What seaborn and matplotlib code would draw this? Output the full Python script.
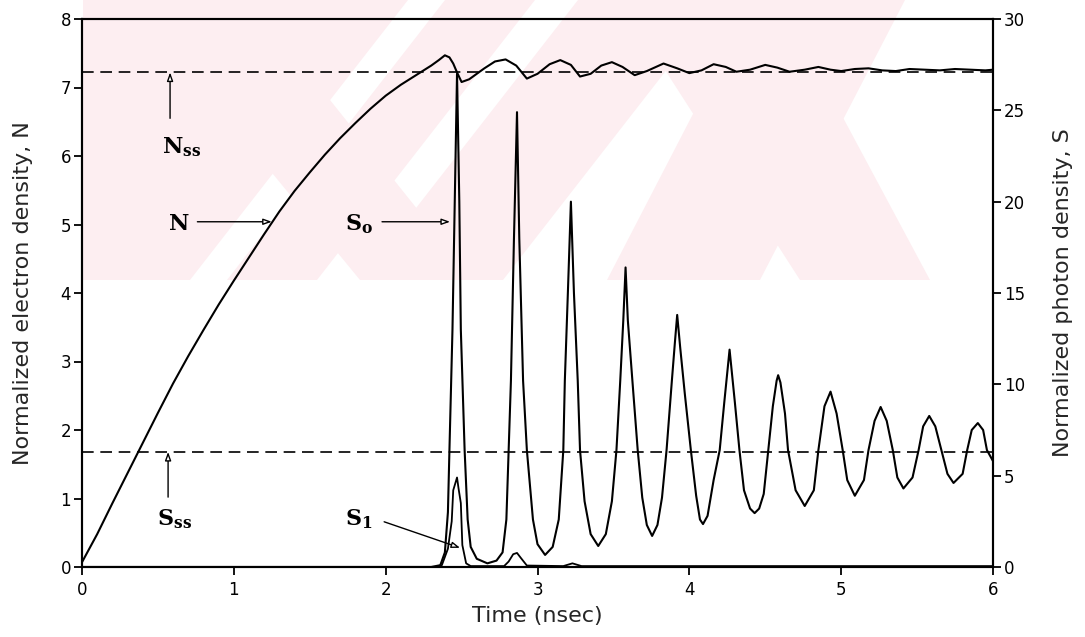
import matplotlib
matplotlib.use('Agg')
import matplotlib.pyplot as plt
from matplotlib.patches import Polygon
import seaborn as sns

# ---- data ----
# electron density N (left axis)
t_n = [0.0, 0.1, 0.2, 0.3, 0.4, 0.5, 0.6, 0.7, 0.8, 0.9, 1.0, 1.1, 1.2, 1.3,
       1.4, 1.5, 1.6, 1.7, 1.8, 1.9, 2.0, 2.1, 2.2, 2.3, 2.35, 2.39, 2.42,
       2.445, 2.47, 2.50, 2.55, 2.60, 2.65, 2.72, 2.79, 2.86, 2.93, 3.00,
       3.08, 3.15, 3.22, 3.28, 3.35, 3.42, 3.49, 3.56, 3.64, 3.72, 3.83,
       3.92, 4.00, 4.08, 4.16, 4.24, 4.31, 4.40, 4.50, 4.58, 4.66, 4.76,
       4.85, 4.93, 5.00, 5.09, 5.18, 5.27, 5.36, 5.45, 5.55, 5.65, 5.75,
       5.85, 5.95, 6.0]
n_val = [0.07, 0.48, 0.93, 1.37, 1.81, 2.25, 2.68, 3.08, 3.46, 3.83, 4.18,
         4.52, 4.86, 5.19, 5.49, 5.76, 6.02, 6.26, 6.48, 6.69, 6.88, 7.04,
         7.18, 7.32, 7.40, 7.47, 7.44, 7.35, 7.22, 7.08, 7.12, 7.20, 7.28,
         7.38, 7.41, 7.32, 7.13, 7.20, 7.34, 7.40, 7.33, 7.16, 7.20, 7.32,
         7.37, 7.30, 7.18, 7.24, 7.35, 7.28, 7.21, 7.25, 7.34, 7.30, 7.23,
         7.26, 7.33, 7.29, 7.23, 7.26, 7.30, 7.26, 7.24, 7.27, 7.28, 7.25,
         7.24, 7.27, 7.26, 7.25, 7.27, 7.26, 7.25, 7.26]

# photon density S0 (right axis)
t_s0 = [0.0, 2.30, 2.36, 2.39, 2.41, 2.42, 2.44, 2.455, 2.47, 2.485, 2.495,
        2.52, 2.54, 2.56, 2.60, 2.67, 2.73, 2.77, 2.795, 2.81, 2.825, 2.845,
        2.865, 2.88, 2.905, 2.93, 2.97, 3.00, 3.05, 3.10, 3.14, 3.17, 3.18,
        3.20, 3.22, 3.24, 3.265, 3.28, 3.31, 3.35, 3.40, 3.45, 3.49, 3.52,
        3.545, 3.565, 3.58, 3.595, 3.625, 3.66, 3.69, 3.72, 3.755, 3.79,
        3.82, 3.85, 3.885, 3.905, 3.92, 3.94, 3.97, 4.01, 4.045, 4.07, 4.09,
        4.12, 4.16, 4.20, 4.23, 4.265, 4.30, 4.33, 4.36, 4.40,
        4.43, 4.46, 4.49, 4.52, 4.55, 4.575, 4.585, 4.60, 4.63, 4.65, 4.70,
        4.76, 4.82, 4.85, 4.89, 4.93, 4.97, 5.01, 5.04, 5.09, 5.15, 5.18,
        5.22, 5.26, 5.30, 5.34, 5.37, 5.41, 5.47, 5.51, 5.54, 5.58, 5.62,
        5.66, 5.70, 5.74, 5.80, 5.83, 5.86, 5.90, 5.935, 5.96, 6.0]
s0_val = [0.0, 0.0, 0.1, 0.8, 3.0, 6.4, 13.0, 20.0, 27.0, 20.0, 13.0, 6.4,
          2.6, 1.1, 0.45, 0.2, 0.35, 0.8, 2.6, 6.4, 10.2, 18.0, 24.9, 18.0,
          10.2, 6.4, 2.6, 1.25, 0.66, 1.1, 2.6, 6.4, 10.2, 15.0, 20.0, 15.0,
          10.2, 6.4, 3.6, 1.8, 1.15, 1.8, 3.6, 6.4, 10.2, 13.5, 16.4, 13.5,
          10.2, 6.4, 3.8, 2.3, 1.7, 2.3, 3.8, 6.4, 10.2, 12.3, 13.8, 12.0,
          9.5, 6.4, 3.9, 2.6, 2.35, 2.8, 4.76, 6.4, 9.0, 11.9, 9.0,
          6.4, 4.2, 3.2, 2.95, 3.2, 4.0, 6.4, 8.8, 10.2, 10.5, 10.1,
          8.4, 6.4, 4.2, 3.34, 4.2, 6.4, 8.8, 9.6, 8.4, 6.4, 4.76, 3.9, 4.76,
          6.4, 8.0, 8.76, 8.0, 6.4, 4.9, 4.3, 4.9, 6.4, 7.7, 8.27, 7.7, 6.4,
          5.1, 4.6, 5.1, 6.4, 7.5, 7.88, 7.5, 6.4, 5.8]

# photon density S1 (right axis)
t_s1 = [0.0, 2.34, 2.37, 2.41, 2.435, 2.445, 2.47, 2.48, 2.495, 2.505, 2.53,
        2.56, 2.78, 2.81, 2.84, 2.865, 2.89, 2.93, 3.17, 3.23, 3.29, 6.0]
s1_val = [0.0, 0.0, 0.1, 1.0, 2.5, 4.2, 4.9, 4.3, 3.5, 1.2, 0.2, 0.05,
          0.05, 0.3, 0.7, 0.77, 0.5, 0.08, 0.05, 0.2, 0.05, 0.05]

n_ss = 7.22      # left axis
s_ss = 6.3       # right axis

x_ticks = [0, 1, 2, 3, 4, 5, 6]
n_ticks = [0, 1, 2, 3, 4, 5, 6, 7, 8]
s_ticks = [0, 5, 10, 15, 20, 25, 30]

# ---- style ----
sns.set_style('ticks')
plt.rcParams['font.family'] = ['DejaVu Sans']
plt.rcParams['mathtext.fontset'] = 'custom'
plt.rcParams['mathtext.bf'] = 'DejaVu Serif:bold'
plt.rcParams['mathtext.rm'] = 'DejaVu Serif'

W, H = 1085, 637
fig = plt.figure(figsize=(W / 100, H / 100), dpi=100)


def px(pts):
    # pixel coords (y down) -> figure fraction, for the background watermark
    return [(x / W, 1 - y / H) for x, y in pts]


# faint pink watermark behind the plot (scan artefact)
pink = '#fdeef1'
bands = [
    [(83, 280), (190, 280), (408, 0), (301, 0), (83, 0)],
    [(227, 280), (317, 280), (535, 0), (445, 0)],
    [(360, 280), (503, 280), (721, 0), (578, 0)],
    [(130, 0), (250, 0), (474, 280), (360, 280)],
    [(607, 280), (760, 280), (905, 0), (752, 0)],
    [(620, 0), (780, 0), (930, 280), (800, 280)],
]
for b in bands:
    fig.patches.append(Polygon(px(b), closed=True, transform=fig.transFigure,
                               facecolor=pink, edgecolor='none', zorder=-10))

fig.subplots_adjust(left=82 / W, right=993 / W, bottom=1 - 567 / H, top=1 - 19 / H)
ax = fig.add_subplot(111)
ax.set_facecolor('none')
ax2 = ax.twinx()
ax2.set_facecolor('none')

# N curve and steady state line
sns.lineplot(x=t_n, y=n_val, ax=ax, color='black', lw=1.5, estimator=None, sort=False)
ax.axhline(n_ss, color='black', lw=1.2, dashes=(7, 4))

# S0, S1 and S steady state
sns.lineplot(x=t_s0, y=s0_val, ax=ax2, color='black', lw=1.5, estimator=None, sort=False)
sns.lineplot(x=t_s1, y=s1_val, ax=ax2, color='black', lw=1.3, estimator=None, sort=False)
ax2.axhline(s_ss, color='black', lw=1.2, dashes=(7, 4))

ax.set_xlim(0, 6)
ax.set_ylim(0, 8)
ax2.set_ylim(0, 30)
ax.set_xticks(x_ticks)
ax.set_yticks(n_ticks)
ax2.set_yticks(s_ticks)

for a in (ax, ax2):
    for s in a.spines.values():
        s.set_visible(True)
        s.set_linewidth(1.5)
        s.set_color('black')
    a.tick_params(direction='out', length=6, width=1.3, labelsize=12,
                  colors='black', pad=2)
ax.tick_params(axis='x', pad=4)

ax.set_xlabel('Time (nsec)', fontsize=16)
ax.set_ylabel('Normalized electron density, N', fontsize=16)
ax2.set_ylabel('Normalized photon density, S', fontsize=16)
ax.xaxis.set_label_coords(0.5, -0.072)
ax.yaxis.set_label_coords(-0.054, 0.5)
ax2.yaxis.set_label_coords(1.066, 0.5)

# annotations (left-axis data units)
lab = dict(fontsize=16, color='black', va='baseline', ha='left')
arr = dict(arrowstyle='-|>,head_length=0.5,head_width=0.18', color='black',
           lw=1.0, fc='white', shrinkA=0, shrinkB=0)
ax.text(0.527, 6.04, r'$\mathbf{N}_{\mathbf{ss}}$', **lab)
ax.annotate('', xy=(0.58, 7.22), xytext=(0.58, 6.55), arrowprops=arr)
ax.text(0.567, 4.92, r'$\mathbf{N}$', **lab)
ax.annotate('', xy=(1.25, 5.04), xytext=(0.76, 5.04), arrowprops=arr)
ax.text(1.733, 4.92, r'$\mathbf{S}_{\mathbf{o}}$', **lab)
ax.annotate('', xy=(2.424, 5.04), xytext=(1.976, 5.04), arrowprops=arr)
ax.text(0.494, 0.61, r'$\mathbf{S}_{\mathbf{ss}}$', **lab)
ax.annotate('', xy=(0.567, 1.68), xytext=(0.567, 1.02), arrowprops=arr)
ax.text(1.733, 0.61, r'$\mathbf{S}_{\mathbf{1}}$', **lab)
ax.annotate('', xy=(2.49, 0.28), xytext=(1.99, 0.66), arrowprops=arr)

plt.savefig('out.png', dpi=100)
